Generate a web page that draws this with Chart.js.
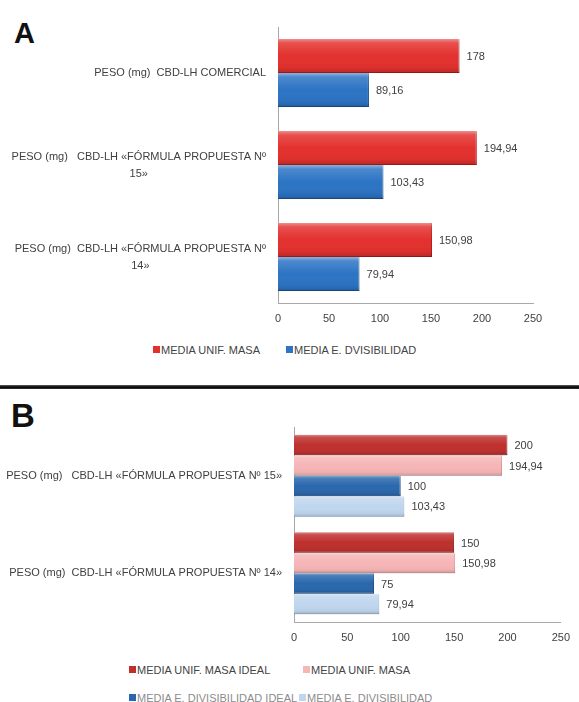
<!DOCTYPE html>
<html>
<head>
<meta charset="utf-8">
<script src="https://cdn.jsdelivr.net/npm/chart.js@4.4.1/dist/chart.umd.min.js"></script>
<style>
  body { margin: 0; width: 579px; height: 702px; background: #fff; position: relative; overflow: hidden; }
  .letter { position: absolute; font-family: "Liberation Sans", Arial, sans-serif; font-weight: bold; color: #111; line-height: 1; }
  #rule { position: absolute; left: 0; top: 385px; width: 579px; height: 4px; background: linear-gradient(#666, #000 50%, #333); }
  canvas { position: absolute; left: 0; }
  .leg { position: absolute; font-family: "Liberation Sans", Arial, sans-serif; font-size: 11px; color: #444; white-space: nowrap; line-height: 12px; }
  .leg i { display: inline-block; width: 7px; height: 7px; margin-right: 1px; vertical-align: 1px; }
</style>
</head>
<body>
<div class="letter" style="left:14px; top:19px; font-size:29px;">A</div>
<canvas id="chartA" width="579" height="335" style="top:0"></canvas>
<div id="rule"></div>
<div class="letter" style="left:11px; top:399px; font-size:33px;">B</div>
<canvas id="chartB" width="579" height="260" style="top:395px"></canvas>
<div id="legends"></div>
<script>
const FONT = '"Liberation Sans", Arial, sans-serif';

// panel A
const catsA = [
    ['PESO (mg)  CBD-LH COMERCIAL'],
    ['PESO (mg)   CBD-LH «FÓRMULA PROPUESTA Nº', '15»'],
    ['PESO (mg)  CBD-LH «FÓRMULA PROPUESTA Nº', '14»']
];
const masaA = [178, 194.94, 150.98];
const divisA = [89.16, 103.43, 79.94];
const namesA = ['MEDIA UNIF. MASA', 'MEDIA E. DVISIBILIDAD'];

// panel B
const catsB = [
    ['PESO (mg)   CBD-LH «FÓRMULA PROPUESTA Nº 15»'],
    ['PESO (mg)  CBD-LH «FÓRMULA PROPUESTA Nº 14»']
];
const masaIdealB = [200, 150];
const masaB = [194.94, 150.98];
const divisIdealB = [100, 75];
const divisB = [103.43, 79.94];
const namesB = ['MEDIA UNIF. MASA IDEAL', 'MEDIA UNIF. MASA', 'MEDIA E. DIVISIBILIDAD IDEAL', 'MEDIA E. DIVISIBILIDAD'];

const xMin = 0, xMax = 250, xStep = 50;

const colA = ['#e3312e', '#2c74c4'];
const edgeA = ['#b51e1c', '#1d5596'];
const colB = ['#be302e', '#f6b5b6', '#2a68ad', '#c0d6ee'];
const edgeB = ['#8e1f1d', '#dc8f91', '#1b4a80', '#94b2d6'];

function fmt(v) {
    return String(v).replace('.', ',');
}

// light top / dark bottom shading on each bar, like the office 3D bars
const barShade = {
    id: 'barShade',
    afterDatasetDraw(chart, args) {
        const ctx = chart.ctx;
        ctx.save();
        args.meta.data.forEach(bar => {
            const h = bar.height, top = bar.y - h / 2, left = bar.base, w = bar.x - bar.base;
            const g = ctx.createLinearGradient(0, top, 0, top + h);
            g.addColorStop(0, 'rgba(255,255,255,0.45)');
            g.addColorStop(0.12, 'rgba(255,255,255,0.15)');
            g.addColorStop(0.5, 'rgba(255,255,255,0)');
            g.addColorStop(0.85, 'rgba(0,0,0,0.04)');
            g.addColorStop(1, 'rgba(0,0,0,0.2)');
            ctx.fillStyle = g;
            ctx.fillRect(left, top, w, h);
        });
        ctx.restore();
    }
};

const valueLabels = {
    id: 'valueLabels',
    afterDatasetsDraw(chart) {
        const ctx = chart.ctx;
        ctx.save();
        ctx.font = '11px ' + FONT;
        ctx.fillStyle = '#404040';
        ctx.textBaseline = 'middle';
        ctx.textAlign = 'left';
        chart.data.datasets.forEach((ds, di) => {
            chart.getDatasetMeta(di).data.forEach((bar, i) => {
                ctx.fillText(fmt(ds.data[i]), bar.x + 7, bar.y + 1);
            });
        });
        ctx.restore();
    }
};

// category labels: first line right aligned, following lines centred under it
const catLabels = {
    id: 'catLabels',
    afterDraw(chart) {
        const ctx = chart.ctx;
        const ys = chart.scales.y;
        const right = chart.chartArea.left - 12;
        ctx.save();
        ctx.font = '11px ' + FONT;
        ctx.fillStyle = '#404040';
        ctx.textBaseline = 'middle';
        chart.data.labels.forEach((lab, i) => {
            const lines = [].concat(lab);
            const lh = 17;
            const top = ys.getPixelForTick(i) - (lines.length - 1) * lh / 2;
            const w0 = ctx.measureText(lines[0]).width;
            lines.forEach((t, k) => {
                if (k === 0) {
                    ctx.textAlign = 'right';
                    ctx.fillText(t, right, top);
                } else {
                    ctx.textAlign = 'center';
                    ctx.fillText(t, right - w0 / 2, top + k * lh);
                }
            });
        });
        ctx.restore();
    }
};

function makeOptions(axisLeft, padRight, padTop, padBottom, pct) {
    return {
        indexAxis: 'y',
        responsive: false,
        animation: false,
        devicePixelRatio: 1,
        datasets: { bar: { barPercentage: 1, categoryPercentage: pct } },
        layout: { padding: { left: 0, right: padRight, top: padTop, bottom: padBottom } },
        plugins: { legend: { display: false }, tooltip: { enabled: false } },
        scales: {
            x: {
                min: xMin, max: xMax,
                ticks: { stepSize: xStep, color: '#404040', font: { size: 11, family: FONT }, padding: 9 },
                grid: { display: false, drawTicks: false },
                border: { display: true, color: '#a8a8a8', width: 1 },
                afterFit: s => { s.height = 24; }
            },
            y: {
                ticks: { display: false },
                grid: { display: false, drawTicks: false },
                border: { display: true, color: '#a8a8a8', width: 1 },
                afterFit: s => { s.width = axisLeft; }
            }
        }
    };
}

function makeSets(series, names, cols, edges) {
    return series.map((d, i) => ({
        label: names[i],
        data: d,
        backgroundColor: cols[i],
        borderColor: edges[i],
        borderWidth: { top: 0, left: 0, right: 1, bottom: 1 },
        borderSkipped: 'start'
    }));
}

new Chart(document.getElementById('chartA'), {
    type: 'bar',
    data: { labels: catsA, datasets: makeSets([masaA, divisA], namesA, colA, edgeA) },
    options: makeOptions(278, 46, 27, 8, 0.74),
    plugins: [barShade, valueLabels, catLabels]
});

new Chart(document.getElementById('chartB'), {
    type: 'bar',
    data: { labels: catsB, datasets: makeSets([masaIdealB, masaB, divisIdealB, divisB], namesB, colB, edgeB) },
    options: makeOptions(294, 14, 32, 9, 0.84),
    plugins: [barShade, valueLabels, catLabels]
});

// legends (html)
const legendSpots = [
    { name: namesA[0], col: colA[0], x: 153, y: 344 },
    { name: namesA[1], col: colA[1], x: 286, y: 344 },
    { name: namesB[0], col: colB[0], x: 129, y: 664 },
    { name: namesB[1], col: colB[1], x: 303, y: 664 },
    { name: namesB[2], col: colB[2], x: 129, y: 692, faded: true },
    { name: namesB[3], col: colB[3], x: 299, y: 692, faded: true }
];
const legends = document.getElementById('legends');
legendSpots.forEach(s => {
    const d = document.createElement('div');
    d.className = 'leg';
    d.style.left = s.x + 'px';
    d.style.top = s.y + 'px';
    if (s.faded) d.style.color = '#8c8c8c';
    d.innerHTML = '<i style="background:' + s.col + '"></i>' + s.name;
    legends.appendChild(d);
});
</script>
</body>
</html>
